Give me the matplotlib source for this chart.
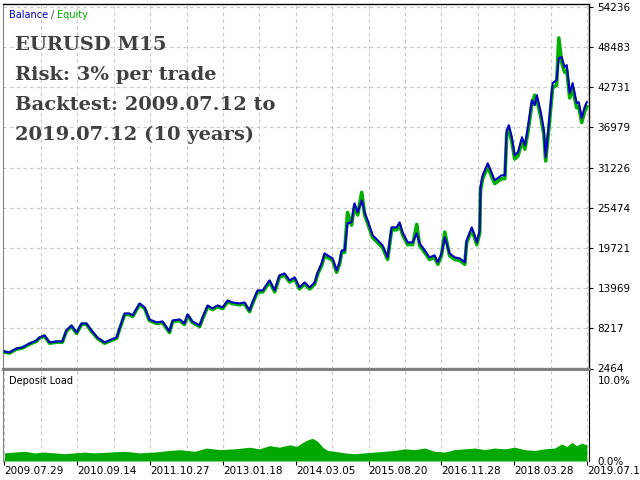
"""Balance / equity curve with deposit load panel, strategy tester style."""

import matplotlib

matplotlib.use("Agg")
import matplotlib.pyplot as plt
from matplotlib.ticker import FixedLocator

BLUE = "#0000c0"
GREEN = "#00b000"
FILL = "#00a800"
GRID = "#c8c8c8"
FRAME = "#808080"
TEXT = "#404040"

# trade number of each sampled point on the curve
trade = [
    0, 14, 33, 49, 69, 88, 96, 110, 124, 143, 159, 170, 184, 198, 212, 225,
    239, 255, 275, 294, 308, 316, 330, 343, 352, 371, 385, 398, 418, 434, 453,
    462, 481, 494, 503, 516, 536, 544, 558, 571, 585, 599, 613, 626, 646, 659,
    673, 681, 695, 709, 728, 742, 755, 769, 783, 797, 810, 824, 838, 852, 860,
    871, 879, 887, 901, 912, 920, 926, 934, 942, 953, 961, 970, 981, 989, 997,
    1011, 1025, 1038, 1052, 1063, 1077, 1085, 1093, 1107, 1121, 1132, 1140,
    1154, 1167, 1181, 1190, 1200, 1209, 1222, 1236, 1250, 1264, 1269, 1283,
    1291, 1297, 1305, 1307, 1313, 1327, 1338, 1346, 1354, 1365, 1374, 1379,
    1385, 1393, 1401, 1410, 1421, 1429, 1437, 1448, 1456, 1462, 1473, 1481,
    1486, 1495, 1505, 1516, 1522, 1530, 1538, 1544, 1552, 1560, 1571, 1577,
    1585, 1593, 1599,
]
balance = [
    4902, 4758, 5332, 5475, 6049, 6479, 6909, 7196, 6192, 6336, 6336, 7913,
    8630, 7626, 8917, 8917, 7913, 6909, 6192, 6623, 6909, 8200, 10351, 10351,
    10064, 11785, 11211, 9491, 9060, 9204, 7770, 9347, 9491, 8917, 10208, 9204,
    8630, 9777, 11498, 11068, 11498, 11211, 12215, 11928, 11785, 11928, 10781,
    11928, 13649, 13649, 15083, 13649, 15800, 16087, 15083, 15513, 14079,
    14796, 14079, 14796, 16230, 17521, 18955, 18668, 18238, 16517, 17664,
    19385, 19385, 23257, 23400, 26125, 24834, 26555, 24834, 23687, 21536,
    20819, 20102, 18381, 22683, 22683, 23400, 21966, 20532, 20532, 21823,
    20389, 19385, 18381, 18668, 17664, 18955, 21249, 18955, 18381, 18238,
    17664, 20819, 22683, 21536, 20532, 22253, 28419, 30140, 31861, 30427,
    29423, 29710, 30140, 30140, 36593, 37310, 35589, 33008, 33438, 35589,
    34442, 36880, 40895, 40178, 41612, 39031, 36593, 32721, 37597, 43333,
    43763, 46918, 47061, 45627, 45914, 41899, 43333, 40465, 40608, 38314,
    39891, 40608,
]
equity = [
    4820, 4680, 5240, 5390, 5950, 6380, 6820, 7090, 6080, 6240, 6230, 7800,
    8500, 7490, 8790, 8800, 7780, 6790, 6090, 6510, 6800, 8080, 10200, 10180,
    9900, 11620, 11060, 9330, 8910, 9050, 7620, 9190, 9340, 8760, 10050, 9050,
    8470, 9610, 11310, 10890, 11320, 11040, 12020, 11740, 11600, 11730, 10600,
    11740, 13430, 13420, 14850, 13430, 15560, 15840, 14850, 15280, 13860,
    14570, 13850, 14560, 15980, 17250, 18650, 18380, 17950, 16250, 17390,
    19080, 19100, 24800, 23000, 25720, 24450, 27700, 24430, 23310, 21190,
    20490, 19780, 18080, 22320, 22330, 23030, 21620, 20200, 20210, 23100,
    20060, 19070, 18080, 18370, 17380, 18650, 22000, 18650, 18080, 17940,
    17380, 20480, 22310, 21190, 20200, 21890, 27960, 29650, 31340, 29930,
    28950, 29230, 29650, 29660, 36000, 36700, 35010, 32470, 32900, 35010,
    33880, 36280, 40230, 41600, 40940, 38400, 36000, 32190, 36990, 42630,
    43050, 49800, 46300, 44890, 45170, 41220, 42630, 39810, 39950, 37690,
    39250, 39950,
]

load_trade = [
    0, 27, 55, 82, 110, 137, 165, 192, 220, 247, 288, 330, 371, 412, 453, 481,
    522, 555, 591, 632, 673, 700, 728, 755, 783, 802, 819, 832, 846, 860, 874,
    887, 906, 934, 961, 989, 1016, 1044, 1071, 1099, 1126, 1154, 1181, 1209,
    1236, 1264, 1291, 1319, 1346, 1374, 1401, 1428, 1456, 1483, 1511, 1530,
    1544, 1558, 1571, 1585, 1599,
]
load_pct = [
    1.0, 1.1, 1.2, 1.0, 1.1, 1.0, 0.9, 1.0, 1.1, 1.0, 1.1, 1.2, 1.0, 1.1, 1.3,
    1.4, 1.2, 1.6, 1.4, 1.5, 1.7, 1.5, 1.9, 1.7, 2.0, 1.8, 2.3, 2.6, 2.8, 2.4,
    1.7, 1.3, 1.2, 1.0, 0.9, 1.0, 1.1, 1.2, 1.3, 1.5, 1.4, 1.6, 1.2, 1.1, 1.4,
    1.5, 1.6, 1.4, 1.6, 1.5, 1.7, 1.4, 1.3, 1.5, 1.6, 2.1, 1.8, 2.3, 1.9, 2.2,
    2.0,
]

y_ticks = [2464, 8217, 13969, 19721, 25474, 31226, 36979, 42731, 48483, 54236]
x_grid = list(range(100, 1700, 100))
x_label_pos = list(range(0, 1700, 200))
x_labels = [
    "2009.07.29", "2010.09.14", "2011.10.27", "2013.01.18", "2014.03.05",
    "2015.08.20", "2016.11.28", "2018.03.28", "2019.07.1",
]
caption = [
    "EURUSD M15",
    "Risk: 3% per trade",
    "Backtest: 2009.07.12 to",
    "2019.07.12 (10 years)",
]


def build_chart(path="out.png"):
    plt.rcParams["font.family"] = ["DejaVu Sans"]
    fig = plt.figure(figsize=(6.4, 4.8), dpi=100, facecolor="white")
    ax = fig.add_axes([3 / 640, 1 - 368.5 / 480, 586 / 640, 364.5 / 480])
    ax_load = fig.add_axes([3 / 640, 1 - 461 / 480, 586 / 640, 90 / 480])
    xlim = (-4, 1605)

    ax.plot(trade, equity, color=GREEN, linewidth=2.6, zorder=3)
    ax.plot(trade, balance, color=BLUE, linewidth=1.5, zorder=4)
    ax.set_xlim(*xlim)
    ax.set_ylim(2464, 54666)
    ax.yaxis.tick_right()
    ax.set_yticks(y_ticks, labels=[str(v) for v in y_ticks])
    ax.xaxis.set_major_locator(FixedLocator(x_grid))
    ax.tick_params(axis="x", bottom=False, labelbottom=False)
    ax.tick_params(axis="y", right=True, length=3, width=0.8, pad=3,
                   labelsize=7.5, colors="black")
    ax.grid(True, color=GRID, linestyle=(0, (3, 3)), linewidth=0.8)
    ax.set_axisbelow(True)
    ax.spines["left"].set_color(FRAME)
    ax.spines["bottom"].set_color(FRAME)
    ax.spines["bottom"].set_linewidth(2.4)
    for side in ("top", "right"):
        ax.spines[side].set_color("black")
        ax.spines[side].set_linewidth(1.0)

    top = 1 - 11 / 364.5
    ax.text(6 / 586, top, "Balance", transform=ax.transAxes,
            color=BLUE, fontsize=7, va="center", ha="left")
    ax.text(48 / 586, top, "/", transform=ax.transAxes,
            color=TEXT, fontsize=7, va="center", ha="left")
    ax.text(54 / 586, top, "Equity", transform=ax.transAxes,
            color=GREEN, fontsize=7, va="center", ha="left")
    for row, line in enumerate(caption):
        ax.text(12 / 586, 1 - (46 + row * 30) / 364.5, line, transform=ax.transAxes,
                family="DejaVu Serif", fontweight="bold", fontsize=14,
                color=TEXT, ha="left", va="baseline")

    ax_load.fill_between(load_trade, 0, load_pct, color=FILL, linewidth=0)
    ax_load.set_xlim(*xlim)
    ax_load.set_ylim(0, 11.1)
    ax_load.yaxis.tick_right()
    ax_load.set_yticks([0, 10], labels=["0.0%", "10.0%"])
    ax_load.tick_params(axis="y", length=0, pad=6, labelsize=7.5)
    ax_load.set_xticks(x_label_pos, labels=x_labels)
    ax_load.set_xticks(x_grid, minor=True)
    ax_load.tick_params(axis="x", which="major", length=3, width=0.8, pad=0.5,
                        labelsize=7.5)
    ax_load.tick_params(axis="x", which="minor", length=0)
    for label in ax_load.get_xticklabels():
        label.set_horizontalalignment("left")
    ax_load.grid(True, axis="x", which="both", color=GRID,
                 linestyle=(0, (3, 3)), linewidth=0.8)
    ax_load.set_axisbelow(True)
    ax_load.spines["left"].set_color(FRAME)
    ax_load.spines["top"].set_visible(False)
    ax_load.spines["bottom"].set_visible(False)
    ax_load.spines["right"].set_color("black")
    ax_load.text(6 / 586, 1 - 10 / 90, "Deposit Load", transform=ax_load.transAxes,
                 fontsize=7, va="center", ha="left", color="black")

    fig.savefig(path, dpi=100, facecolor="white")
    plt.close(fig)


if __name__ == "__main__":
    build_chart()
